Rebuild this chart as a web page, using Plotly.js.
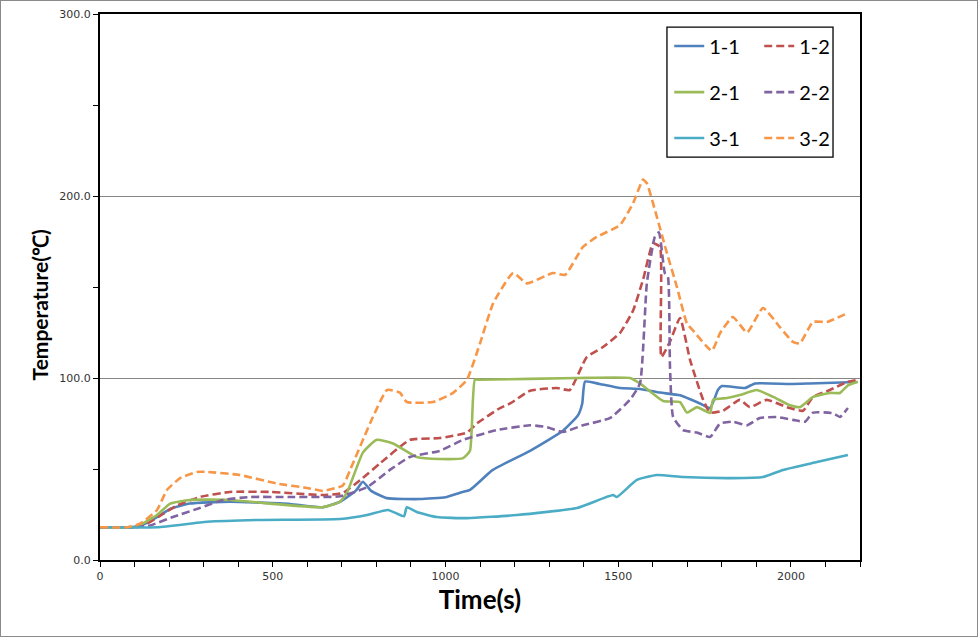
<!DOCTYPE html>
<html>
<head>
<meta charset="utf-8">
<script src="https://cdn.plot.ly/plotly-3.0.1.min.js"></script>
<style>
  html, body { margin: 0; padding: 0; background: #fff; }
  #chart { width: 979px; height: 639px; position: absolute; left: 0; top: 0; }
  #frame { position: absolute; left: 0; top: 0; width: 976px; height: 635px; border: 1px solid #8a8a8a; pointer-events: none; }
</style>
</head>
<body>
<div id="chart"></div>
<div id="frame"></div>
<script>
// ---- data (time in s, temperature in °C) ----
const seriesNames = ["1-1", "1-2", "2-1", "2-2", "3-1", "3-2"];

const t11 = [0, 80, 120, 165, 203, 260, 376, 550, 645, 695, 740, 761, 785, 830, 926, 1000, 1042, 1071, 1137, 1245, 1340, 1384, 1396, 1404, 1447, 1505, 1563, 1621, 1679, 1737, 1766, 1789, 1800, 1867, 1896, 1997, 2055, 2190];
const v11 = [18, 18, 19, 23.5, 28, 31, 32, 30.8, 29, 32, 38, 43, 38, 34, 33.5, 34.5, 37, 38.5, 49.5, 60, 71, 79.6, 86, 98, 96.7, 94.5, 94, 92, 90.5, 86, 83.5, 93.5, 95.6, 94.5, 97, 96.7, 97, 97.8];

const t12 = [0, 100, 136, 180, 223, 289, 376, 492, 645, 703, 760, 810, 897, 984, 1062, 1091, 1158, 1187, 1245, 1323, 1360, 1409, 1456, 1505, 1543, 1572, 1601, 1621, 1625, 1650, 1679, 1708, 1746, 1766, 1803, 1852, 1881, 1930, 1988, 2035, 2064, 2113, 2162, 2194];
const v12 = [18, 18, 20, 25, 30, 34.6, 37.4, 37.4, 35.7, 36.8, 45, 53, 66, 67, 70, 75, 83.5, 86, 93, 94.5, 93.4, 111.5, 117, 124.7, 137, 154, 174, 172, 111.5, 120, 133, 110, 88, 81, 82, 88, 84, 88, 84, 82, 89.6, 93.4, 97.8, 99];

const t21 = [0, 100, 165, 203, 260, 376, 492, 645, 695, 715, 761, 800, 848, 917, 984, 1051, 1071, 1085, 1100, 1380, 1534, 1563, 1630, 1679, 1699, 1728, 1766, 1775, 1815, 1852, 1901, 1949, 1997, 2026, 2064, 2113, 2142, 2165, 2194];
const v21 = [18, 18, 24.7, 31, 33, 33, 31, 29, 32, 37, 59, 66, 64, 56.6, 55.5, 56, 60, 99, 99, 100, 100, 97, 87.4, 86.8, 81, 84, 80.8, 88, 89, 90.6, 93.4, 89.6, 85, 84, 89.6, 91.8, 91.8, 96, 98];

const t22 = [0, 100, 145, 211, 289, 356, 434, 550, 695, 773, 839, 897, 984, 1051, 1149, 1245, 1294, 1340, 1398, 1476, 1534, 1563, 1583, 1606, 1618, 1635, 1644, 1650, 1659, 1688, 1728, 1766, 1795, 1832, 1873, 1910, 1959, 2006, 2041, 2064, 2122, 2142, 2165];
const v22 = [18, 18, 19, 23.6, 28.6, 33, 34.6, 34.6, 35, 40, 49.5, 56.6, 60, 66, 71.4, 74, 73, 70.3, 74, 78, 88, 97, 152, 177.5, 180, 157.7, 155.5, 106, 78.6, 71.4, 70, 67.6, 75, 76, 74, 78, 78.6, 77, 76, 81, 80.6, 78.6, 83.5];

const t31 = [0, 165, 310, 454, 695, 773, 834, 880, 888, 917, 975, 1062, 1207, 1381, 1485, 1496, 1554, 1612, 1688, 1832, 1919, 1977, 2075, 2165];
const v31 = [18, 18, 21, 22, 22.5, 24.7, 27.5, 24, 29, 26.4, 23.6, 23, 24.7, 28.6, 35.7, 34.6, 44, 46.7, 45.6, 45, 45.6, 49.5, 53.8, 57.7];

const t32 = [0, 80, 116, 165, 194, 232, 281, 310, 405, 512, 599, 645, 703, 724, 790, 831, 868, 888, 964, 1022, 1062, 1100, 1138, 1196, 1236, 1311, 1346, 1398, 1438, 1505, 1543, 1572, 1583, 1612, 1641, 1670, 1699, 1717, 1771, 1795, 1832, 1873, 1919, 1968, 2006, 2026, 2064, 2104, 2165];
const v32 = [18, 18, 20, 27.5, 38.5, 45, 48.4, 48.4, 46.7, 42, 39.6, 38, 41, 49.5, 78.6, 93.4, 92, 86.8, 86.8, 91.8, 99, 119, 141, 157.7, 152, 157.7, 156.6, 172, 177.5, 184, 196, 209, 207, 188.5, 168.7, 150, 130, 126, 115, 124.7, 133.5, 125, 138.5, 128, 119.8, 119, 130.8, 130.8, 135.7];

const yTickVals = [0, 100, 200, 300];
const xTickVals = [0, 500, 1000, 1500, 2000];
const xTitle = "Time(s)";
const yTitle = "Temperature(℃)";

// ---- styling ----
const colors = ["#4F81BD", "#C0504D", "#9BBB59", "#8064A2", "#4BACC6", "#F79646"];
const dashes = ["solid", "8px,4px", "solid", "8px,4px", "solid", "8px,4px"];
const legends = ["legend", "legend", "legend2", "legend2", "legend3", "legend3"];
const xs = [t11, t12, t21, t22, t31, t32];
const ys = [v11, v12, v21, v22, v31, v32];

const traces = seriesNames.map((n, i) => ({
  x: xs[i], y: ys[i], name: n, type: "scatter", mode: "lines",
  legend: legends[i],
  line: { color: colors[i], width: 2.6, dash: dashes[i], shape: "spline", smoothing: 0.45 }
}));

const legFont = { family: "Lato, 'Open Sans', sans-serif", size: 20, color: "#000" };
function leg(y) {
  return {
    orientation: "h", x: 0.749, xanchor: "left", y: y, yanchor: "middle",
    bgcolor: "rgba(0,0,0,0)", borderwidth: 0, font: legFont,
    entrywidth: 45, entrywidthmode: "pixels", traceorder: "normal"
  };
}

const layout = {
  width: 979, height: 639,
  margin: { l: 100, r: 119, t: 14, b: 79 },
  paper_bgcolor: "#fff", plot_bgcolor: "#fff",
  showlegend: true,
  legend: leg(0.9414), legend2: leg(0.857), legend3: leg(0.773),
  xaxis: {
    range: [0, 2200], tickvals: xTickVals, ticktext: xTickVals.map(String),
    ticks: "outside", ticklen: 5, tickcolor: "#000", tickwidth: 1,
    minor: { dtick: 100, tick0: 0, ticks: "outside", ticklen: 5, tickcolor: "#000", showgrid: false },
    showline: true, linecolor: "#000", linewidth: 2, mirror: true,
    showgrid: false, zeroline: false,
    tickfont: { family: "DejaVu Sans, sans-serif", size: 11, color: "#333" },
    title: { text: xTitle, font: { family: "Lato, sans-serif", size: 26, color: "#000", weight: "bold" }, standoff: 8 }
  },
  yaxis: {
    range: [0, 300], tickvals: yTickVals, ticktext: yTickVals.map(v => v.toFixed(1)),
    ticks: "outside", ticklen: 5, tickcolor: "#000", tickwidth: 1,
    minor: { dtick: 50, tick0: 0, ticks: "outside", ticklen: 5, tickcolor: "#000", showgrid: false },
    showline: true, linecolor: "#000", linewidth: 2, mirror: true,
    showgrid: true, gridcolor: "#868686", gridwidth: 1, zeroline: false,
    tickfont: { family: "DejaVu Sans, sans-serif", size: 11, color: "#333" }
  },
  annotations: [{
    text: yTitle, xref: "paper", yref: "paper", x: -0.079, y: 0.468,
    xanchor: "center", yanchor: "middle", textangle: -90, showarrow: false,
    font: { family: "Lato, sans-serif", size: 21, color: "#000", weight: "bold" }
  }],
  shapes: [{
    type: "rect", xref: "paper", yref: "paper",
    x0: 0.746, x1: 0.9645, y0: 0.738, y1: 0.976,
    line: { color: "#000", width: 1.3 }, fillcolor: "rgba(0,0,0,0)"
  }]
};

Plotly.newPlot("chart", traces, layout, { displayModeBar: false, staticPlot: true });
</script>
</body>
</html>
